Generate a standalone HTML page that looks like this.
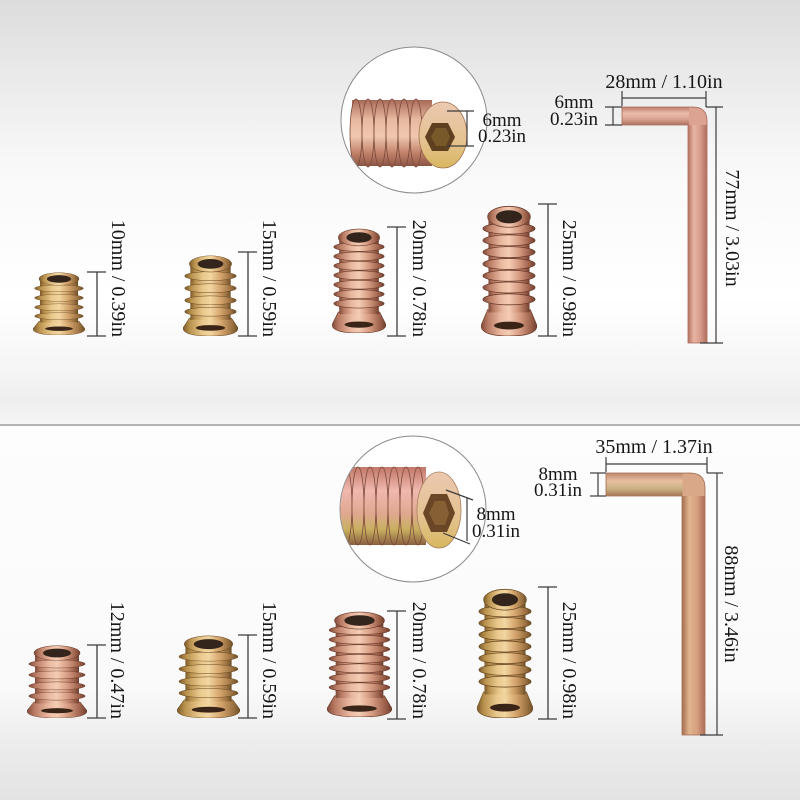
<!DOCTYPE html>
<html><head><meta charset="utf-8">
<style>
html,body{margin:0;padding:0;width:800px;height:800px;overflow:hidden;background:#fff}
svg{display:block}
text{font-family:"Liberation Serif","DejaVu Serif",serif;fill:#161616}
</style></head><body>
<svg width="800" height="800" viewBox="0 0 800 800" xmlns="http://www.w3.org/2000/svg">
<defs>
 <linearGradient id="bgT" x1="0" y1="0" x2="0" y2="1">
   <stop offset="0" stop-color="#dcdcdc"/>
   <stop offset="0.15" stop-color="#e8e8e8"/>
   <stop offset="0.4" stop-color="#f9f9f9"/>
   <stop offset="0.7" stop-color="#ffffff"/>
   <stop offset="0.86" stop-color="#f6f6f6"/>
   <stop offset="0.94" stop-color="#eeeeee"/>
   <stop offset="1" stop-color="#f6f6f6"/>
 </linearGradient>
 <linearGradient id="bgB" x1="0" y1="0" x2="0" y2="1">
   <stop offset="0" stop-color="#fdfdfd"/>
   <stop offset="0.7" stop-color="#fafafa"/>
   <stop offset="0.84" stop-color="#ededed"/>
   <stop offset="1" stop-color="#e3e3e3"/>
 </linearGradient>
 <linearGradient id="gP" x1="0" y1="0" x2="1" y2="0">
   <stop offset="0" stop-color="#7e4a3a"/>
   <stop offset="0.12" stop-color="#b87a62"/>
   <stop offset="0.35" stop-color="#eab8a0"/>
   <stop offset="0.5" stop-color="#f4ccb4"/>
   <stop offset="0.7" stop-color="#d49a80"/>
   <stop offset="0.9" stop-color="#9a5e48"/>
   <stop offset="1" stop-color="#6e3e30"/>
 </linearGradient>
 <linearGradient id="gG" x1="0" y1="0" x2="1" y2="0">
   <stop offset="0" stop-color="#7a5a2c"/>
   <stop offset="0.12" stop-color="#b8904c"/>
   <stop offset="0.35" stop-color="#e8c88c"/>
   <stop offset="0.5" stop-color="#f2d6a0"/>
   <stop offset="0.7" stop-color="#d4a46c"/>
   <stop offset="0.9" stop-color="#9a7040"/>
   <stop offset="1" stop-color="#6a4e26"/>
 </linearGradient>
 <linearGradient id="gHz" x1="0" y1="0" x2="0" y2="1">
   <stop offset="0" stop-color="#a86a58"/>
   <stop offset="0.3" stop-color="#e8b8a0"/>
   <stop offset="0.55" stop-color="#f0c8b0"/>
   <stop offset="0.8" stop-color="#c08068"/>
   <stop offset="1" stop-color="#8a5444"/>
 </linearGradient>
 <linearGradient id="gHz2" x1="0" y1="0" x2="0" y2="1">
   <stop offset="0" stop-color="#c07868"/>
   <stop offset="0.3" stop-color="#f0b8b0"/>
   <stop offset="0.6" stop-color="#e0a890"/>
   <stop offset="0.8" stop-color="#c8b060"/>
   <stop offset="1" stop-color="#8a6040"/>
 </linearGradient>
 <linearGradient id="gFace" x1="0" y1="0" x2="0" y2="1">
   <stop offset="0" stop-color="#ecc8b0"/>
   <stop offset="0.6" stop-color="#e4c290"/>
   <stop offset="1" stop-color="#d8b860"/>
 </linearGradient>
 <linearGradient id="gKv" x1="0" y1="0" x2="1" y2="0">
   <stop offset="0" stop-color="#b87868"/>
   <stop offset="0.3" stop-color="#e8b4a4"/>
   <stop offset="0.65" stop-color="#d89c8c"/>
   <stop offset="1" stop-color="#b07060"/>
 </linearGradient>
 <linearGradient id="gKh" x1="0" y1="0" x2="0" y2="1">
   <stop offset="0" stop-color="#c08070"/>
   <stop offset="0.35" stop-color="#ecbcac"/>
   <stop offset="0.7" stop-color="#d8a090"/>
   <stop offset="1" stop-color="#b07464"/>
 </linearGradient>
 <linearGradient id="gBv" x1="0" y1="0" x2="1" y2="0">
   <stop offset="0" stop-color="#a87050"/>
   <stop offset="0.3" stop-color="#e0b490"/>
   <stop offset="0.65" stop-color="#d8a080"/>
   <stop offset="1" stop-color="#b07058"/>
 </linearGradient>
 <linearGradient id="gBh" x1="0" y1="0" x2="0" y2="1">
   <stop offset="0" stop-color="#c08a70"/>
   <stop offset="0.35" stop-color="#e8c0a0"/>
   <stop offset="0.7" stop-color="#c8b080"/>
   <stop offset="1" stop-color="#a87858"/>
 </linearGradient>

 <symbol id="LP" viewBox="0 0 60 100" preserveAspectRatio="none">
  <path d="M7,80 L53,80 L60,92 Q60,100 30,100 Q0,100 0,92 Z" fill="url(#gP)" stroke="#6a3a2a" stroke-width=".6"/>
  <ellipse cx="30" cy="92" rx="16" ry="3" fill="#3a2418"/>
  <rect x="8" y="8" width="44" height="74" fill="url(#gP)"/>
  <ellipse cx="30" cy="18" rx="28" ry="4.2" fill="url(#gP)" stroke="#6a3a2a" stroke-width=".6"/>
  <ellipse cx="30" cy="27" rx="28" ry="4.2" fill="url(#gP)" stroke="#6a3a2a" stroke-width=".6"/>
  <ellipse cx="30" cy="36" rx="28" ry="4.2" fill="url(#gP)" stroke="#6a3a2a" stroke-width=".6"/>
  <ellipse cx="30" cy="45" rx="28" ry="4.2" fill="url(#gP)" stroke="#6a3a2a" stroke-width=".6"/>
  <ellipse cx="30" cy="54" rx="28" ry="4.2" fill="url(#gP)" stroke="#6a3a2a" stroke-width=".6"/>
  <ellipse cx="30" cy="63" rx="28" ry="4.2" fill="url(#gP)" stroke="#6a3a2a" stroke-width=".6"/>
  <ellipse cx="30" cy="72" rx="28" ry="4.2" fill="url(#gP)" stroke="#6a3a2a" stroke-width=".6"/>
  <ellipse cx="30" cy="9" rx="23" ry="8" fill="url(#gP)" stroke="#6a3a2a" stroke-width=".6"/>
  <ellipse cx="30" cy="9" rx="14" ry="5" fill="#33241c"/>
 </symbol>
 <symbol id="LG" viewBox="0 0 60 100" preserveAspectRatio="none">
  <path d="M7,80 L53,80 L60,92 Q60,100 30,100 Q0,100 0,92 Z" fill="url(#gG)" stroke="#6a4a22" stroke-width=".6"/>
  <ellipse cx="30" cy="92" rx="16" ry="3" fill="#3a2418"/>
  <rect x="8" y="8" width="44" height="74" fill="url(#gG)"/>
  <ellipse cx="30" cy="18" rx="28" ry="4.2" fill="url(#gG)" stroke="#6a4a22" stroke-width=".6"/>
  <ellipse cx="30" cy="27" rx="28" ry="4.2" fill="url(#gG)" stroke="#6a4a22" stroke-width=".6"/>
  <ellipse cx="30" cy="36" rx="28" ry="4.2" fill="url(#gG)" stroke="#6a4a22" stroke-width=".6"/>
  <ellipse cx="30" cy="45" rx="28" ry="4.2" fill="url(#gG)" stroke="#6a4a22" stroke-width=".6"/>
  <ellipse cx="30" cy="54" rx="28" ry="4.2" fill="url(#gG)" stroke="#6a4a22" stroke-width=".6"/>
  <ellipse cx="30" cy="63" rx="28" ry="4.2" fill="url(#gG)" stroke="#6a4a22" stroke-width=".6"/>
  <ellipse cx="30" cy="72" rx="28" ry="4.2" fill="url(#gG)" stroke="#6a4a22" stroke-width=".6"/>
  <ellipse cx="30" cy="9" rx="23" ry="8" fill="url(#gG)" stroke="#6a4a22" stroke-width=".6"/>
  <ellipse cx="30" cy="9" rx="14" ry="5" fill="#33241c"/>
 </symbol>
 <symbol id="SP" viewBox="0 0 60 100" preserveAspectRatio="none">
  <path d="M7,78 L53,78 L60,90 Q60,100 30,100 Q0,100 0,90 Z" fill="url(#gP)" stroke="#6a3a2a" stroke-width=".6"/>
  <ellipse cx="30" cy="90" rx="16" ry="3.5" fill="#3a2418"/>
  <rect x="8" y="10" width="44" height="70" fill="url(#gP)"/>
  <ellipse cx="30" cy="26" rx="28" ry="5.5" fill="url(#gP)" stroke="#6a3a2a" stroke-width=".6"/>
  <ellipse cx="30" cy="41" rx="28" ry="5.5" fill="url(#gP)" stroke="#6a3a2a" stroke-width=".6"/>
  <ellipse cx="30" cy="56" rx="28" ry="5.5" fill="url(#gP)" stroke="#6a3a2a" stroke-width=".6"/>
  <ellipse cx="30" cy="70" rx="28" ry="5.5" fill="url(#gP)" stroke="#6a3a2a" stroke-width=".6"/>
  <ellipse cx="30" cy="11" rx="23" ry="10" fill="url(#gP)" stroke="#6a3a2a" stroke-width=".6"/>
  <ellipse cx="30" cy="11" rx="14" ry="6" fill="#33241c"/>
 </symbol>
 <symbol id="SG" viewBox="0 0 60 100" preserveAspectRatio="none">
  <path d="M7,78 L53,78 L60,90 Q60,100 30,100 Q0,100 0,90 Z" fill="url(#gG)" stroke="#6a4a22" stroke-width=".6"/>
  <ellipse cx="30" cy="90" rx="16" ry="3.5" fill="#3a2418"/>
  <rect x="8" y="10" width="44" height="70" fill="url(#gG)"/>
  <ellipse cx="30" cy="26" rx="28" ry="5.5" fill="url(#gG)" stroke="#6a4a22" stroke-width=".6"/>
  <ellipse cx="30" cy="41" rx="28" ry="5.5" fill="url(#gG)" stroke="#6a4a22" stroke-width=".6"/>
  <ellipse cx="30" cy="56" rx="28" ry="5.5" fill="url(#gG)" stroke="#6a4a22" stroke-width=".6"/>
  <ellipse cx="30" cy="70" rx="28" ry="5.5" fill="url(#gG)" stroke="#6a4a22" stroke-width=".6"/>
  <ellipse cx="30" cy="11" rx="23" ry="10" fill="url(#gG)" stroke="#6a4a22" stroke-width=".6"/>
  <ellipse cx="30" cy="11" rx="14" ry="6" fill="#33241c"/>
 </symbol>
 <clipPath id="c1"><circle cx="414" cy="120" r="72.5"/></clipPath>
 <clipPath id="c2"><circle cx="413" cy="509" r="72.5"/></clipPath>
</defs>

<!-- background -->
<rect x="0" y="0" width="800" height="426" fill="url(#bgT)"/>
<rect x="0" y="426" width="800" height="374" fill="url(#bgB)"/>
<line x1="0" y1="425" x2="800" y2="425" stroke="#b5b5b5" stroke-width="2"/>

<!-- ===== TOP HALF ===== -->
<circle cx="414" cy="120" r="73" fill="#ffffff" stroke="#8a8a8a" stroke-width="1"/>
<g clip-path="url(#c1)">
  <rect x="352" y="100" width="80" height="66" fill="url(#gHz)"/>
  <ellipse cx="356" cy="133" rx="6" ry="34" fill="url(#gHz)" stroke="#7a4838" stroke-width=".8"/>
  <ellipse cx="368" cy="133" rx="6" ry="34" fill="url(#gHz)" stroke="#7a4838" stroke-width=".8"/>
  <ellipse cx="380" cy="133" rx="6" ry="34" fill="url(#gHz)" stroke="#7a4838" stroke-width=".8"/>
  <ellipse cx="392" cy="133" rx="6" ry="34" fill="url(#gHz)" stroke="#7a4838" stroke-width=".8"/>
  <ellipse cx="404" cy="133" rx="6" ry="34" fill="url(#gHz)" stroke="#7a4838" stroke-width=".8"/>
  <ellipse cx="416" cy="133" rx="6" ry="34" fill="url(#gHz)" stroke="#7a4838" stroke-width=".8"/>
  <ellipse cx="443" cy="135" rx="24" ry="33" fill="url(#gFace)" stroke="#a07050" stroke-width=".8"/>
  <polygon points="425,137 432,123 448,123 455,137 448,151 432,151" fill="#5e4020"/>
  <polygon points="431,137 436,128 446,128 450,137 446,146 436,146" fill="#8a6a30" opacity=".6"/>
</g>
<g stroke="#3c3c3c" stroke-width="1.2">
  <line x1="447" y1="111" x2="474" y2="111"/>
  <line x1="447" y1="146" x2="474" y2="146"/>
  <line x1="467" y1="111" x2="467" y2="146"/>
</g>
<text x="502" y="126" font-size="19" text-anchor="middle">6mm</text>
<text x="502" y="142" font-size="19" text-anchor="middle">0.23in</text>

<!-- hex key top -->
<path d="M622,107 L693,107 Q707,107 707,121 L707,343 L688,343 L688,125 L622,125 Z" fill="#d89a8a" stroke="#a86858" stroke-width=".8"/>
<rect x="688.5" y="124" width="18" height="218.5" fill="url(#gKv)"/>
<rect x="622.5" y="107.5" width="67" height="17" fill="url(#gKh)"/>
<path d="M689,108 L693,108 Q706.5,108 706.5,121 L706.5,125 L689,125 Z" fill="#dca292"/>
<g stroke="#3c3c3c" stroke-width="1.2" fill="none">
  <line x1="622" y1="98" x2="706" y2="98"/>
  <line x1="622" y1="91" x2="622" y2="106"/>
  <line x1="706" y1="91" x2="706" y2="107"/>
  <line x1="706" y1="107" x2="723" y2="107"/>
  <line x1="716" y1="107" x2="716" y2="343"/>
  <line x1="700" y1="343" x2="723" y2="343"/>
  <line x1="613" y1="107" x2="613" y2="125"/>
  <line x1="605" y1="107" x2="622" y2="107"/>
  <line x1="605" y1="125" x2="622" y2="125"/>
</g>
<text x="664" y="88" font-size="20" text-anchor="middle">28mm / 1.10in</text>
<text x="574" y="108" font-size="19" text-anchor="middle">6mm</text>
<text x="574" y="125" font-size="19" text-anchor="middle">0.23in</text>
<text transform="translate(726,228) rotate(90)" font-size="20" text-anchor="middle">77mm / 3.03in</text>

<!-- inserts top row -->
<use href="#SG" x="33" y="272" width="52" height="63"/>
<use href="#SG" x="183" y="255" width="55" height="81"/>
<use href="#LP" x="332" y="228" width="54" height="105"/>
<use href="#LP" x="481" y="205" width="56" height="131"/>

<g stroke="#3c3c3c" stroke-width="1.3">
  <line x1="97" y1="272" x2="97" y2="336"/><line x1="87" y1="272" x2="106" y2="272"/><line x1="87" y1="336" x2="106" y2="336"/>
  <line x1="248" y1="252" x2="248" y2="336"/><line x1="238" y1="252" x2="257" y2="252"/><line x1="238" y1="336" x2="257" y2="336"/>
  <line x1="397" y1="227" x2="397" y2="336"/><line x1="387" y1="227" x2="406" y2="227"/><line x1="387" y1="336" x2="406" y2="336"/>
  <line x1="548" y1="204" x2="548" y2="336"/><line x1="538" y1="204" x2="557" y2="204"/><line x1="538" y1="336" x2="557" y2="336"/>
</g>
<text transform="translate(112,337) rotate(90)" font-size="20" text-anchor="end">10mm / 0.39in</text>
<text transform="translate(263,337) rotate(90)" font-size="20" text-anchor="end">15mm / 0.59in</text>
<text transform="translate(413,337) rotate(90)" font-size="20" text-anchor="end">20mm / 0.78in</text>
<text transform="translate(563,337) rotate(90)" font-size="20" text-anchor="end">25mm / 0.98in</text>

<!-- ===== BOTTOM HALF ===== -->
<circle cx="413" cy="509" r="73" fill="#ffffff" stroke="#8a8a8a" stroke-width="1"/>
<g clip-path="url(#c2)">
  <rect x="338" y="467" width="88" height="78" fill="url(#gHz2)"/>
  <ellipse cx="346" cy="506" rx="6" ry="39" fill="url(#gHz2)" stroke="#7a4838" stroke-width=".8"/>
  <ellipse cx="358" cy="506" rx="6" ry="39" fill="url(#gHz2)" stroke="#7a4838" stroke-width=".8"/>
  <ellipse cx="370" cy="506" rx="6" ry="39" fill="url(#gHz2)" stroke="#7a4838" stroke-width=".8"/>
  <ellipse cx="382" cy="506" rx="6" ry="39" fill="url(#gHz2)" stroke="#7a4838" stroke-width=".8"/>
  <ellipse cx="394" cy="506" rx="6" ry="39" fill="url(#gHz2)" stroke="#7a4838" stroke-width=".8"/>
  <ellipse cx="406" cy="506" rx="6" ry="39" fill="url(#gHz2)" stroke="#7a4838" stroke-width=".8"/>
  <ellipse cx="418" cy="506" rx="6" ry="39" fill="url(#gHz2)" stroke="#7a4838" stroke-width=".8"/>
  <ellipse cx="439" cy="510" rx="22" ry="38" fill="url(#gFace)" stroke="#a88060" stroke-width=".8"/>
  <polygon points="423,513 431,494 447,494 455,513 447,532 431,532" fill="#6a4626"/>
  <polygon points="429,513 435,501 445,501 449,513 445,525 435,525" fill="#9a7040" opacity=".6"/>
</g>
<g stroke="#3c3c3c" stroke-width="1.2">
  <line x1="446" y1="490" x2="473" y2="500"/>
  <line x1="467" y1="498" x2="467" y2="541"/>
  <line x1="443" y1="533" x2="470" y2="544"/>
</g>
<text x="496" y="520" font-size="19" text-anchor="middle">8mm</text>
<text x="496" y="537" font-size="19" text-anchor="middle">0.31in</text>

<!-- hex key bottom -->
<path d="M606,473 L690,473 Q705,473 705,488 L705,735 L682,735 L682,496 L606,496 Z" fill="#d4a080" stroke="#a06a50" stroke-width=".8"/>
<rect x="682.5" y="495" width="22" height="239.5" fill="url(#gBv)"/>
<rect x="606.5" y="473.5" width="76" height="22" fill="url(#gBh)"/>
<path d="M682.5,474 L690,474 Q704.5,474 704.5,488 L704.5,496 L682.5,496 Z" fill="#d8a888"/>
<g stroke="#3c3c3c" stroke-width="1.2" fill="none">
  <line x1="606" y1="464" x2="707" y2="464"/>
  <line x1="606" y1="457" x2="606" y2="472"/>
  <line x1="707" y1="457" x2="707" y2="473"/>
  <line x1="707" y1="473" x2="723" y2="473"/>
  <line x1="717" y1="473" x2="717" y2="735"/>
  <line x1="700" y1="735" x2="723" y2="735"/>
  <line x1="598" y1="473" x2="598" y2="496"/>
  <line x1="590" y1="473" x2="606" y2="473"/>
  <line x1="590" y1="496" x2="606" y2="496"/>
</g>
<text x="654" y="453" font-size="20" text-anchor="middle">35mm / 1.37in</text>
<text x="558" y="480" font-size="19" text-anchor="middle">8mm</text>
<text x="558" y="496" font-size="19" text-anchor="middle">0.31in</text>
<text transform="translate(725,604) rotate(90)" font-size="20" text-anchor="middle">88mm / 3.46in</text>

<!-- inserts bottom row -->
<use href="#SP" x="27" y="645" width="60" height="73"/>
<use href="#SG" x="177" y="635" width="63" height="83"/>
<use href="#LP" x="327" y="611" width="65" height="106"/>
<use href="#LG" x="477" y="588" width="56" height="130"/>

<g stroke="#3c3c3c" stroke-width="1.3">
  <line x1="97" y1="645" x2="97" y2="718"/><line x1="87" y1="645" x2="106" y2="645"/><line x1="87" y1="718" x2="106" y2="718"/>
  <line x1="248" y1="635" x2="248" y2="718"/><line x1="238" y1="635" x2="257" y2="635"/><line x1="238" y1="718" x2="257" y2="718"/>
  <line x1="397" y1="611" x2="397" y2="719"/><line x1="387" y1="611" x2="406" y2="611"/><line x1="387" y1="719" x2="406" y2="719"/>
  <line x1="548" y1="587" x2="548" y2="719"/><line x1="538" y1="587" x2="557" y2="587"/><line x1="538" y1="719" x2="557" y2="719"/>
</g>
<text transform="translate(111,719) rotate(90)" font-size="20" text-anchor="end">12mm / 0.47in</text>
<text transform="translate(263,719) rotate(90)" font-size="20" text-anchor="end">15mm / 0.59in</text>
<text transform="translate(413,719) rotate(90)" font-size="20" text-anchor="end">20mm / 0.78in</text>
<text transform="translate(563,719) rotate(90)" font-size="20" text-anchor="end">25mm / 0.98in</text>
</svg>
</body></html>
